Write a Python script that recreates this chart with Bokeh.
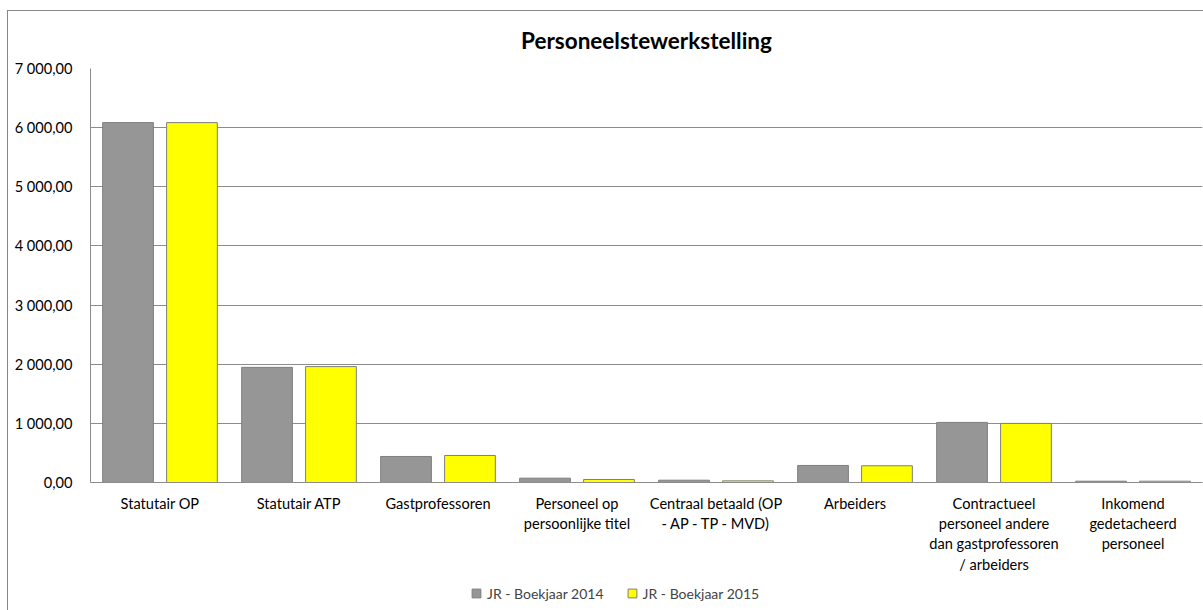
from bokeh.plotting import figure
from bokeh.layouts import column
from bokeh.models import (ColumnDataSource, Legend, LegendItem, FixedTicker,
                          CustomJSTickFormatter, InlineStyleSheet)
from bokeh.embed import file_html
from bokeh.resources import INLINE

categories = [
    "Statutair OP",
    "Statutair ATP",
    "Gastprofessoren",
    "Personeel op\npersoonlijke titel",
    "Centraal betaald (OP\n- AP - TP - MVD)",
    "Arbeiders",
    "Contractueel\npersoneel andere\ndan gastprofessoren\n/ arbeiders",
    "Inkomend\ngedetacheerd\npersoneel",
]
jr_2014 = [6085, 1947, 440, 73, 39, 288, 1016, 22]
jr_2015 = [6085, 1960, 457, 51, 28, 283, 999, 22]
series_names = ["JR - Boekjaar 2014", "JR - Boekjaar 2015"]
y_ticks = [0, 1000, 2000, 3000, 4000, 5000, 6000, 7000]

FONT = "Lato"
GRID = "#8c8c8c"
C14, C15, EDGE = "#969696", "#ffff00", "#7f7f7f"

xc = [i + 0.5 for i in range(len(categories))]
src = ColumnDataSource(dict(
    x14=[x - 0.23 for x in xc],
    x15=[x + 0.23 for x in xc],
    y14=jr_2014,
    y15=jr_2015,
))

p = figure(width=1203, height=580, output_backend="svg", toolbar_location=None,
           x_range=(0, len(categories)), y_range=(0, 7000),
           min_border_left=90, min_border_right=1, min_border_top=68,
           min_border_bottom=98)
p.title.text = "Personeelstewerkstelling"
p.title.align = "center"
p.title.text_font = FONT
p.title.text_font_size = "22.5px"
p.title.text_font_style = "bold"
p.title.text_color = "#000000"
p.title.offset = 0
p.title.standoff = 30

p.vbar(x="x14", top="y14", width=0.365, source=src,
       fill_color=C14, line_color=EDGE, line_width=1)
p.vbar(x="x15", top="y15", width=0.365, source=src,
       fill_color=C15, line_color=EDGE, line_width=1)

p.outline_line_color = None
p.xgrid.grid_line_color = None
p.ygrid.grid_line_color = GRID
p.ygrid.grid_line_width = 1
p.yaxis.ticker = FixedTicker(ticks=y_ticks)
p.yaxis.formatter = CustomJSTickFormatter(code="""
    const s = tick.toFixed(2).replace('.', ',');
    const parts = s.split(',');
    const ip = parts[0].replace(/\\B(?=(\\d{3})+(?!\\d))/g, ' ');
    return ip + ',' + parts[1];
""")
p.xaxis.ticker = FixedTicker(ticks=xc)
p.xaxis.major_label_overrides = {x: c for x, c in zip(xc, categories)}

for ax in (p.xaxis[0], p.yaxis[0]):
    ax.axis_line_color = GRID
    ax.major_tick_line_color = None
    ax.minor_tick_line_color = None
    ax.major_tick_in = 0
    ax.major_tick_out = 0
    ax.major_label_text_font = FONT
    ax.major_label_text_font_size = "14.6px"
    ax.major_label_text_color = "#000000"
p.yaxis.major_label_standoff = 18
p.xaxis.major_label_standoff = 12
p.xaxis.major_label_text_line_height = 1.2

# legend strip below the chart (its frame is aligned with the chart's frame);
# the proxy markers lie outside its x range, only their legend swatches show
q = figure(width=1203, height=30, output_backend="svg", toolbar_location=None,
           x_range=(100, 101), y_range=(0, 1), min_border=0)
q.axis.visible = False
q.grid.visible = False
q.outline_line_color = None
l14 = q.scatter(x="x14", y="y14", marker="square", size=9, source=src,
                fill_color=C14, line_color=EDGE)
l15 = q.scatter(x="x15", y="y15", marker="square", size=9, source=src,
                fill_color=C15, line_color=EDGE)
legend = Legend(items=[LegendItem(label=series_names[0], renderers=[l14], index=0),
                       LegendItem(label=series_names[1], renderers=[l15], index=0)],
                orientation="horizontal", location=(375, 6),
                label_text_font=FONT, label_text_font_size="14px",
                glyph_width=22, glyph_height=22, label_standoff=-2, spacing=17,
                border_line_color=None, background_fill_alpha=0, padding=0,
                margin=0)
q.add_layout(legend, "center")

layout = column(p, q, spacing=0)
layout.stylesheets = [InlineStyleSheet(css="""
:host::after {
  content: "";
  position: absolute;
  left: 7px; top: 10px; width: 1220px; height: 640px;
  border: 1px solid #888888;
  pointer-events: none;
}
""")]

open("out.html", "w").write(file_html(layout, INLINE))
